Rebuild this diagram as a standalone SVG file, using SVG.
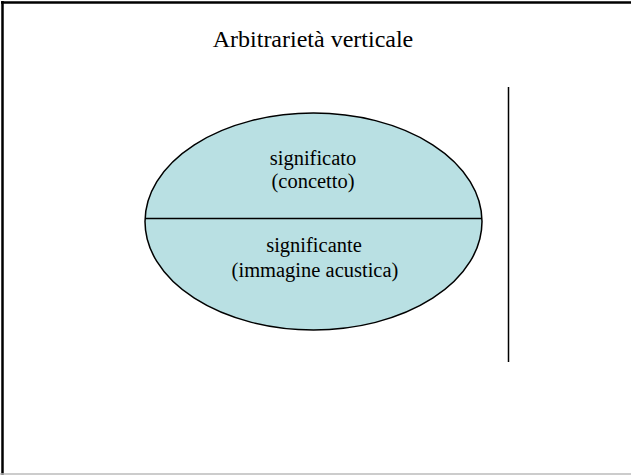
<svg xmlns="http://www.w3.org/2000/svg" width="631" height="475" viewBox="0 0 631 475">
<style>
text{font-family:'Liberation Serif','Times New Roman','DejaVu Serif',serif;fill:#000;text-anchor:middle}
</style>
<rect width="631" height="475" fill="#fff"/>
<g id="frame">
<line x1="1" y1="2.5" x2="631" y2="2.5" stroke="#000" stroke-width="2.5"/>
<line x1="2.5" y1="1" x2="2.5" y2="475" stroke="#000" stroke-width="2.5"/>
<line x1="0" y1="474" x2="631" y2="474" stroke="#bbb" stroke-width="1.5"/>
</g>
<text x="313" y="47" font-size="24" font-family="Liberation Serif, serif">Arbitrarietà verticale</text>
<g id="sign">
<ellipse cx="313.5" cy="221.5" rx="168.5" ry="108.5" fill="#b9e0e3" stroke="#000" stroke-width="1.5"/>
<line x1="145" y1="218.5" x2="482" y2="218.5" stroke="#000" stroke-width="1.5"/>
<text x="313" y="165" font-size="20.5" font-family="Liberation Serif, serif">significato</text>
<text x="313" y="188" font-size="20.5" font-family="Liberation Serif, serif">(concetto)</text>
<text x="314" y="252" font-size="20.5" font-family="Liberation Serif, serif">significante</text>
<text x="315" y="277" font-size="20.5" font-family="Liberation Serif, serif">(immagine acustica)</text>
</g>
<g id="connectors">
<line x1="508.5" y1="87" x2="508.5" y2="362" stroke="#000" stroke-width="1.5"/>
</g>
</svg>
